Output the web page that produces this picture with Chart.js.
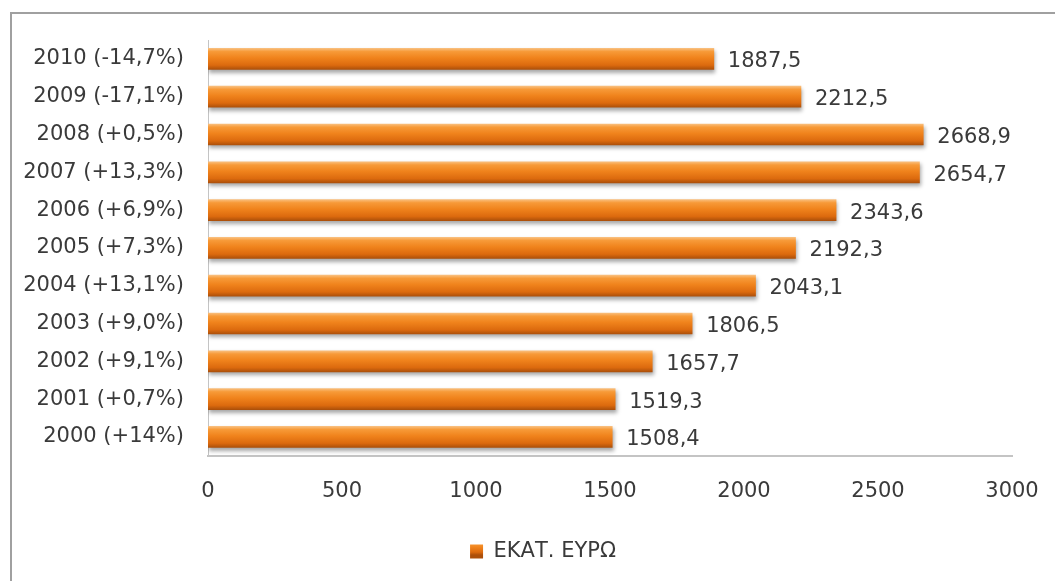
<!DOCTYPE html>
<html lang="el">
<head>
<meta charset="utf-8">
<title>ΕΚΑΤ. ΕΥΡΩ 2000–2010</title>
<script src="https://cdn.jsdelivr.net/npm/chart.js@4.4.1/dist/chart.umd.min.js"></script>
<style>
  html, body { margin: 0; padding: 0; background: #ffffff; }
  #wrap { position: relative; width: 1055px; height: 581px; overflow: hidden; }
  #frame { position: absolute; left: 10px; top: 12px; width: 1100px; height: 620px;
           border-left: 2px solid #a0a0a0; border-top: 2px solid #a0a0a0; box-sizing: border-box; }
  canvas { position: absolute; left: 0; top: 0; }
</style>
</head>
<body>
<div id="wrap">
  <div id="frame"></div>
  <canvas id="chart" width="1055" height="581"></canvas>
</div>
<script>
// Years and yearly change, oldest first
const years = ['2000', '2001', '2002', '2003', '2004', '2005', '2006', '2007', '2008', '2009', '2010'];
const changes = ['+14%', '+0,7%', '+9,1%', '+9,0%', '+13,1%', '+7,3%', '+6,9%', '+13,3%', '+0,5%', '-17,1%', '-14,7%'];
// Amount in million euro
const amounts = [1508.4, 1519.3, 1657.7, 1806.5, 2043.1, 2192.3, 2343.6, 2654.7, 2668.9, 2212.5, 1887.5];
const seriesName = 'ΕΚΑΤ. ΕΥΡΩ';
const xTicks = [0, 500, 1000, 1500, 2000, 2500, 3000];

const categories = years.map((y, i) => y + ' (' + changes[i] + ')');

const FONT = "'DejaVu Sans', sans-serif";
const TEXT = '#3a3a3a';
const BAR_PX = 21;

const fmt = v => v.toFixed(1).replace('.', ',');

function barGradient(ctx, top, h) {
  const g = ctx.createLinearGradient(0, top, 0, top + h);
  g.addColorStop(0, '#f9be7c');
  g.addColorStop(0.15, '#f79a38');
  g.addColorStop(0.45, '#f0831c');
  g.addColorStop(0.8, '#dc6a0e');
  g.addColorStop(1, '#ad500a');
  return g;
}

// soft drop shadow under each bar
const barShadow = {
  id: 'barShadow',
  beforeDatasetsDraw(chart) {
    const c = chart.ctx;
    c.save();
    c.shadowColor = 'rgba(0,0,0,0.35)';
    c.shadowBlur = 4;
    c.shadowOffsetX = 1;
    c.shadowOffsetY = 3;
  },
  afterDatasetsDraw(chart) {
    chart.ctx.restore();
  }
};

// value written to the right of each bar
const valueLabels = {
  id: 'valueLabels',
  afterDatasetsDraw(chart) {
    const c = chart.ctx;
    const meta = chart.getDatasetMeta(0);
    c.save();
    c.font = '21px ' + FONT;
    c.fillStyle = TEXT;
    c.textAlign = 'left';
    c.textBaseline = 'middle';
    meta.data.forEach((bar, i) => {
      c.fillText(fmt(amounts[i]), bar.x + 14, bar.y + 3);
    });
    c.restore();
  }
};

// nudge the legend a little to the right of the canvas centre
const legendOffset = {
  id: 'legendOffset',
  afterLayout(chart) {
    const lg = chart.legend;
    if (!lg) return;
    lg.left += 32;
    lg.right += 32;
  }
};

new Chart(document.getElementById('chart'), {
  type: 'bar',
  data: {
    labels: categories,
    datasets: [{
      label: seriesName,
      data: amounts,
      barThickness: BAR_PX,
      borderWidth: 0,
      borderSkipped: false,
      backgroundColor(context) {
        const chart = context.chart;
        const y = chart.scales && chart.scales.y;
        if (context.type !== 'data' || !y || !chart.chartArea) return '#f0831c';
        const cy = y.getPixelForValue(context.dataIndex);
        return barGradient(chart.ctx, cy - BAR_PX / 2, BAR_PX);
      }
    }]
  },
  options: {
    indexAxis: 'y',
    responsive: false,
    animation: false,
    devicePixelRatio: 1,
    layout: { padding: { left: 10, right: 43, top: 40, bottom: 9 } },
    scales: {
      x: {
        min: 0,
        max: 3000,
        afterBuildTicks(scale) { scale.ticks = xTicks.map(v => ({ value: v })); },
        afterFit(scale) { scale.paddingLeft = 0; scale.paddingRight = 0; },
        grid: { display: false, drawTicks: false },
        border: { display: true, color: '#c4c4c4', width: 2 },
        ticks: {
          padding: 23, color: TEXT, font: { family: FONT, size: 21 },
          callback: v => String(v)
        }
      },
      y: {
        reverse: true,
        afterFit(scale) { scale.width = 198; },
        grid: { display: false, drawTicks: false },
        border: { display: true, color: '#c4c4c4', width: 1 },
        ticks: { padding: 24, color: TEXT, font: { family: FONT, size: 21 } }
      }
    },
    plugins: {
      legend: {
        position: 'bottom',
        labels: {
          color: TEXT,
          font: { family: FONT, size: 21 },
          boxWidth: 13,
          boxHeight: 14,
          padding: 14,
          generateLabels(chart) {
            const g = barGradient(chart.ctx, 541, 14);
            return [{
              text: seriesName,
              fillStyle: g,
              strokeStyle: '#ad500a',
              lineWidth: 0,
              datasetIndex: 0,
              fontColor: TEXT
            }];
          }
        }
      },
      tooltip: { enabled: false }
    }
  },
  plugins: [barShadow, valueLabels, legendOffset]
});
</script>
</body>
</html>
